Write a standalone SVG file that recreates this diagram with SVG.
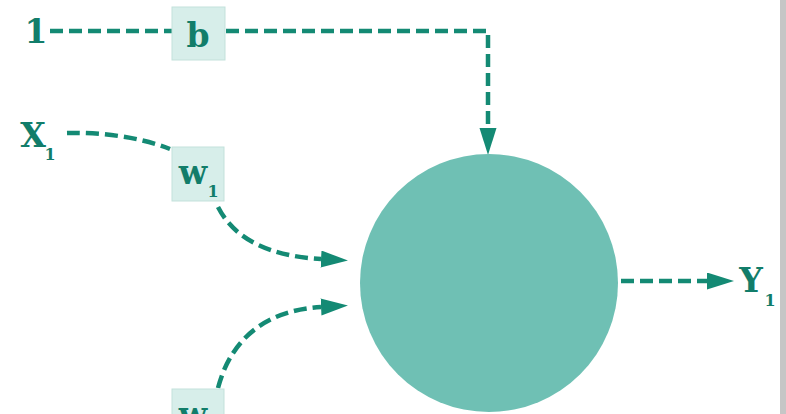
<svg xmlns="http://www.w3.org/2000/svg" width="786" height="414" viewBox="0 0 786 414">
  <style>
    .lbl { font-family: "DejaVu Serif", "Liberation Serif", serif; font-weight: bold; fill: #127d6a; }
    .big { font-size: 33px; }
    .sub { font-size: 16px; }
    .box { fill: #d7eeea; stroke: #c3e1db; stroke-width: 1; }
    .link { fill: none; stroke: #148a74; stroke-width: 4.5; stroke-dasharray: 13 6; }
  </style>
  <defs>
    <marker id="head" markerUnits="userSpaceOnUse" markerWidth="28" markerHeight="18" refX="0" refY="8.5" orient="auto">
      <path d="M0,0 L27,8.5 L0,17 Z" fill="#148a74"/>
    </marker>
  </defs>

  <rect x="0" y="0" width="786" height="414" fill="#ffffff"/>
  <rect x="780" y="0" width="6" height="414" fill="#c6c6c6"/>

  <!-- connectors -->
  <g id="connectors">
    <path class="link" d="M50,31 H172"/>
    <path class="link" d="M226,31 H488 V128" marker-end="url(#head)"/>
    <path class="link" d="M67,133 C100,132 140,137 170,149"/>
    <path class="link" d="M218,207 C235,240 270,256 321,259" marker-end="url(#head)"/>
    <path class="link" d="M218,388 C232,335 270,310 321,307" marker-end="url(#head)"/>
    <path class="link" d="M621,281 H707" marker-end="url(#head)"/>
  </g>

  <!-- bias input -->
  <g id="input-one">
    <text class="lbl big" x="36" y="43" text-anchor="middle">1</text>
  </g>
  <g id="bias">
    <rect class="box" x="172" y="7" width="53" height="53"/>
    <text class="lbl big" x="198" y="47" text-anchor="middle">b</text>
  </g>

  <!-- input x1 -->
  <g id="input-x1">
    <text class="lbl big" x="33" y="147" text-anchor="middle">X</text>
    <text class="lbl sub" x="50" y="160" text-anchor="middle">1</text>
  </g>

  <!-- weight w1 -->
  <g id="weight-w1">
    <rect class="box" x="172" y="147" width="52" height="54"/>
    <text class="lbl big" x="193" y="184" text-anchor="middle">w</text>
    <text class="lbl sub" x="213" y="197" text-anchor="middle">1</text>
  </g>

  <!-- weight w2 (cut by the lower edge) -->
  <g id="weight-w2">
    <rect class="box" x="172" y="389" width="52" height="54"/>
    <text class="lbl big" x="193" y="426" text-anchor="middle">w</text>
  </g>

  <!-- neuron -->
  <g id="neuron">
    <circle cx="489" cy="283" r="129" fill="#6fc0b4"/>
  </g>

  <!-- output y1 -->
  <g id="output-y1">
    <text class="lbl big" x="751" y="292" text-anchor="middle">Y</text>
    <text class="lbl sub" x="770" y="306" text-anchor="middle">1</text>
  </g>
</svg>
